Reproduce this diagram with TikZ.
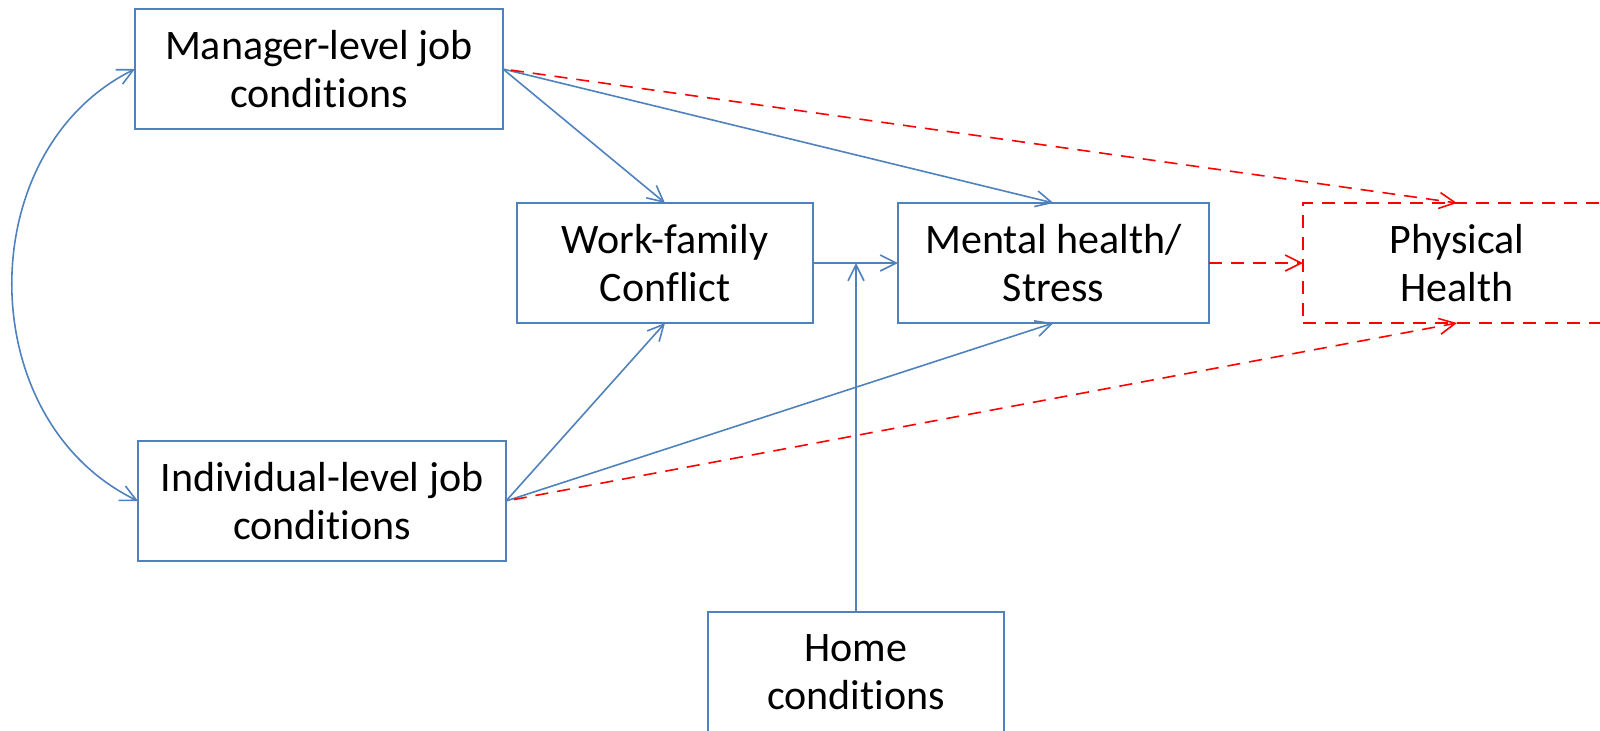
\documentclass[tikz,border=0pt]{standalone}
\usepackage{fontspec}
\setmainfont[Ligatures={NoCommon,NoContextual,NoRare},Contextuals=NoAlternate]{Carlito}
\usetikzlibrary{arrows.meta}
\definecolor{boxblue}{HTML}{4F81BD}
\definecolor{pathred}{HTML}{FF0000}
% keep "t" and "i" as separate glyphs
\newcommand{\condtext}{condit\kern0pt ions}
\begin{document}
\begin{tikzpicture}[x=0.5pt,y=-0.5pt,
  box/.style={draw=boxblue,line width=0.8pt,inner sep=0pt,outer sep=0pt,
    minimum height=60pt,align=center,
    font=\fontsize{21pt}{24pt}\selectfont},
  redbox/.style={box,draw=pathred,dash pattern=on 6.5pt off 4.5pt},
  link/.style={draw=boxblue,line width=0.8pt,-{Straight Barb[length=8pt,width=8pt]}},
  redlink/.style={draw=pathred,line width=0.8pt,dash pattern=on 6.5pt off 4.5pt,
    -{Straight Barb[length=8pt,width=8pt]}}]
\useasboundingbox (0,0) rectangle (1600,730);
\clip (0,0) rectangle (1600,730);

% boxes
\node[box,minimum width=184pt] (mgr) at (319,69) {Manager-level job\\\condtext};
\node[box,minimum width=184pt] (ind) at (322,501) {Individual-level job\\\condtext};
\node[box,minimum width=148pt] (wfc) at (665,263) {Work-family\\Conflict};
\node[box,minimum width=155.5pt] (mh) at (1053.5,263) {Mental health/\\Stress};
\node[redbox,minimum width=154pt] (ph) at (1457,263) {Physical\\Health};
\node[box,minimum width=148pt] (home) at (856,672) {Home\\\condtext};

% correlation between the two job-condition levels
\draw[draw=boxblue,line width=0.8pt,
  {Straight Barb[length=8pt,width=8pt]}-{Straight Barb[length=8pt,width=8pt]}]
  (mgr.west) .. controls (-29,150) and (-29,420) .. (ind.west);

% paths from job conditions
\draw[link] (mgr.east) -- (wfc.north);
\draw[link] (mgr.east) -- (mh.north);
\draw[redlink,shorten <=4pt] (mgr.east) -- (ph.north);
\draw[link] (ind.east) -- (wfc.south);
\draw[link] (ind.east) -- (mh.south);
\draw[redlink,shorten <=4pt] (ind.east) -- (ph.south);

% work-family conflict to mental health, moderated by home conditions
\coordinate (join) at (home.north |- wfc.east);
\draw[link] (wfc.east) -- (mh.west);
\draw[link] (home.north) -- (join);

% mental health to physical health
\draw[redlink] (mh.east) -- (ph.west);
\end{tikzpicture}
\end{document}
